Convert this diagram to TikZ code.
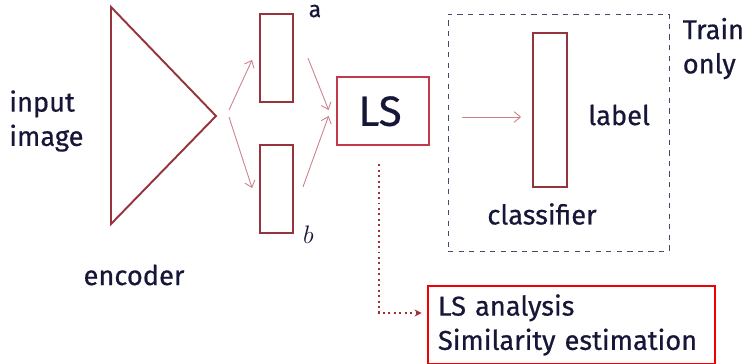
\documentclass[tikz,border=0pt]{standalone}
\usepackage{fontspec}
\setmainfont{Fira Sans}[FakeBold=0.6]
\usetikzlibrary{arrows.meta,positioning}
\usepackage{xcolor}
\definecolor{Ink}{RGB}{22,22,56}
\definecolor{Wine}{RGB}{150,52,62}
\definecolor{Crim}{RGB}{196,56,76}
\definecolor{Rose}{RGB}{205,128,138}
\definecolor{Slate}{RGB}{72,72,105}
\definecolor{Signal}{RGB}{240,0,0}

\begin{document}
\begin{tikzpicture}[
    feat/.style={rectangle,draw=Wine,line width=1.1pt,minimum width=0.66cm,
                 minimum height=1.76cm,inner sep=0pt},
    lsbox/.style={rectangle,draw=Crim,line width=1.6pt,minimum width=1.84cm,
                  minimum height=1.36cm,text=Ink,font=\fontsize{24}{28}\selectfont},
    txt/.style={inner sep=0pt,text=Ink,align=left,font=\fontsize{15.5}{19.5}\selectfont},
    arr/.style={-{Straight Barb[length=3.5pt,width=6pt]},Rose,line width=0.5pt},
    dotarr/.style={-{Stealth[length=4pt,width=4pt]},Wine!90!red,dotted,line width=1.1pt}]

  \useasboundingbox (0,0) rectangle (14.92,7.28);

  % encoder
  \coordinate (tip) at (4.32,4.96);
  \draw[Wine,line width=1.1pt] (2.22,7.14) -- (tip) -- (2.22,2.80) -- cycle;
  \node[txt,anchor=north west] (img) at (0.18,5.48) {input\\image};
  \node[txt] (enc) at (2.68,1.78) {encoder};

  % latent features
  \node[feat] (fa) at (5.53,6.12) {};
  \node[feat] (fb) at (5.53,3.50) {};
  \node[txt,font=\fontsize{13}{15}\selectfont] (la) at ([shift={(0.42,0.04)}]fa.north east) {a};
  \node[txt,font=\fontsize{15}{18}\selectfont] (lb) at ([shift={(0.29,-0.02)}]fb.south east) {$b$};

  \node[lsbox,text depth=0pt] (ls) at (7.66,5.06) {\hspace*{-0.12cm}LS};

  % training branch
  \node[rectangle,draw=Slate,dashed,line width=0.5pt,minimum width=4.42cm,
        minimum height=4.74cm] (train) at (11.17,4.63) {};
  \node[feat,minimum width=0.68cm,minimum height=3.08cm] (cls) at (11.0,5.08) {};
  \node[txt,right=0.4cm of cls,yshift=-0.1cm] (lbl) {label};
  \node[txt] (clsname) at (10.84,3.0) {classifier};
  \node[txt,anchor=north west] (only) at ([shift={(0.26,-0.08)}]train.north east) {Train\\only};

  % analysis
  \node[txt,draw=Signal,line width=1.6pt,inner xsep=0.2cm,text width=5.34cm,
        minimum height=1.56cm] (res) at (11.43,0.78) {LS analysis\\Similarity estimation};

  \draw[arr] ([shift={(0.26,0.12)}]tip) -- ([shift={(-0.14,-0.04)}]fa.west);
  \draw[arr] ([shift={(0.26,-0.02)}]tip) -- ([shift={(-0.14,0.02)}]fb.west);
  \draw[arr] ([xshift=0.28cm]fa.east) -- ([shift={(-0.14,0.02)}]ls.west);
  \draw[arr] ([shift={(0.18,0.04)}]fb.east) -- ([shift={(-0.14,-0.1)}]ls.west);
  \draw[arr] ([shift={(-1.4,-0.14)}]cls.west) -- ([shift={(-0.22,-0.14)}]cls.west);
  \draw[dotarr,shorten >=0.1cm] ([shift={(-0.08,-0.36)}]ls.south) |- ([yshift=0.24cm]res.west);
\end{tikzpicture}
\end{document}
